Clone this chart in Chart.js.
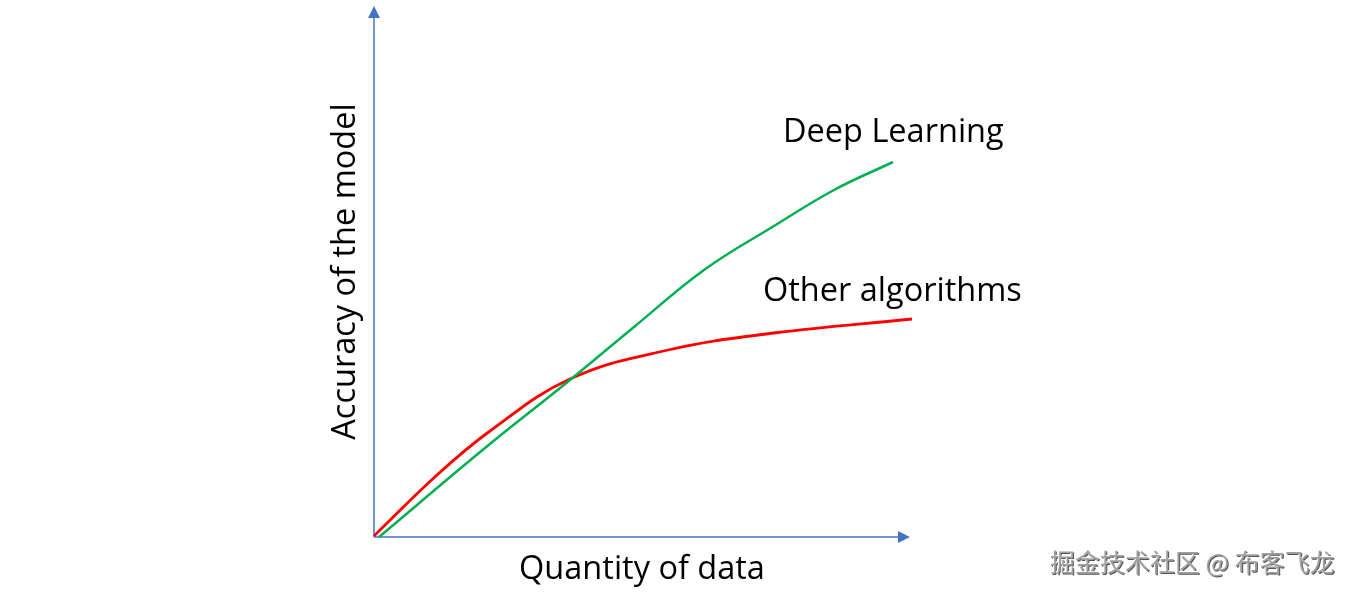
<!DOCTYPE html>
<html>
<head>
<meta charset="utf-8">
<script src="https://cdn.jsdelivr.net/npm/chart.js@4"></script>
<style>
    html, body { margin: 0; padding: 0; background: #fff; }
    canvas { display: block; }
</style>
</head>
<body>
<canvas id="dataChart" width="1353" height="594"></canvas>
<script>
// Curve values (x = quantity of data, y = accuracy)
const deepX = [5, 111, 196, 260, 330, 400, 460, 519];
const deepY = [0, 89, 157, 210, 267, 311, 347, 375];
const otherX = [0, 63, 116, 196, 294, 400, 538];
const otherY = [1, 62, 106, 158, 187, 204, 218];

const seriesNames = ['Deep Learning', 'Other algorithms'];
const axisTitles = ['Quantity of data', 'Accuracy of the model'];
const watermark = '掘金技术社区 @ 布客飞龙';

const colors = {
    axis: '#4472C4',
    deep: '#00B050',
    other: '#FF0000',
    text: '#000000'
};

const font = '"Open Sans", "Noto Sans", sans-serif';

function toPoints(xs, ys) {
    return xs.map((x, i) => ({ x: x, y: ys[i] }));
}

// Axes with arrow heads, titles, curve labels and the watermark
const decorations = {
    id: 'decorations',
    beforeDatasetsDraw(chart) {
        const ctx = chart.ctx;
        const area = chart.chartArea;
        const head = 12;
        ctx.save();
        ctx.strokeStyle = colors.axis;
        ctx.fillStyle = colors.axis;
        ctx.lineWidth = 1.5;
        ctx.beginPath();
        ctx.moveTo(area.left, area.bottom);
        ctx.lineTo(area.left, area.top + head);
        ctx.moveTo(area.left, area.bottom);
        ctx.lineTo(area.right - head, area.bottom);
        ctx.stroke();
        // y arrow
        ctx.beginPath();
        ctx.moveTo(area.left, area.top);
        ctx.lineTo(area.left - 6, area.top + head);
        ctx.lineTo(area.left + 6, area.top + head);
        ctx.closePath();
        ctx.fill();
        // x arrow
        ctx.beginPath();
        ctx.moveTo(area.right, area.bottom);
        ctx.lineTo(area.right - head, area.bottom - 6);
        ctx.lineTo(area.right - head, area.bottom + 6);
        ctx.closePath();
        ctx.fill();
        ctx.restore();
    },
    afterDraw(chart) {
        const ctx = chart.ctx;
        const area = chart.chartArea;
        const x = chart.scales.x;
        const y = chart.scales.y;
        ctx.save();
        ctx.fillStyle = colors.text;
        ctx.font = '32.5px ' + font;

        ctx.textAlign = 'center';
        ctx.textBaseline = 'middle';
        ctx.fillText(axisTitles[0], (area.left + area.right) / 2, 570);

        ctx.save();
        ctx.translate(346, (area.top + area.bottom) / 2);
        ctx.rotate(-Math.PI / 2);
        ctx.fillText(axisTitles[1], 0, 0);
        ctx.restore();

        ctx.textAlign = 'left';
        ctx.textBaseline = 'alphabetic';
        ctx.fillText(seriesNames[0], x.getPixelForValue(409), y.getPixelForValue(395));
        ctx.fillText(seriesNames[1], x.getPixelForValue(389), y.getPixelForValue(236));

        // embossed watermark
        ctx.font = '25px "Noto Sans CJK SC", sans-serif';
        ctx.textAlign = 'left';
        ctx.textBaseline = 'middle';
        ctx.fillStyle = '#555555';
        ctx.fillText(watermark, 1051, 563);
        ctx.fillStyle = '#ffffff';
        ctx.fillText(watermark, 1049, 561);
        ctx.fillStyle = '#a0a0a0';
        ctx.fillText(watermark, 1050, 562);
        ctx.restore();
    }
};

document.addEventListener('DOMContentLoaded', function () {
    const dataChart = new Chart(document.getElementById('dataChart'), {
        type: 'line',
        data: {
            datasets: [{
                label: seriesNames[0],
                data: toPoints(deepX, deepY),
                borderColor: colors.deep,
                borderWidth: 2.5,
                tension: 0.4,
                pointRadius: 0,
                fill: false,
                clip: false
            }, {
                label: seriesNames[1],
                data: toPoints(otherX, otherY),
                borderColor: colors.other,
                borderWidth: 2.8,
                tension: 0.4,
                pointRadius: 0,
                fill: false,
                clip: false
            }]
        },
        options: {
            responsive: false,
            animation: false,
            layout: {
                padding: { left: 374, right: 443, top: 6, bottom: 57 }
            },
            plugins: {
                legend: { display: false },
                tooltip: { enabled: false }
            },
            scales: {
                x: { type: 'linear', min: 0, max: 536, display: false },
                y: { type: 'linear', min: 0, max: 531, display: false }
            }
        },
        plugins: [decorations]
    });
});
</script>
</body>
</html>
